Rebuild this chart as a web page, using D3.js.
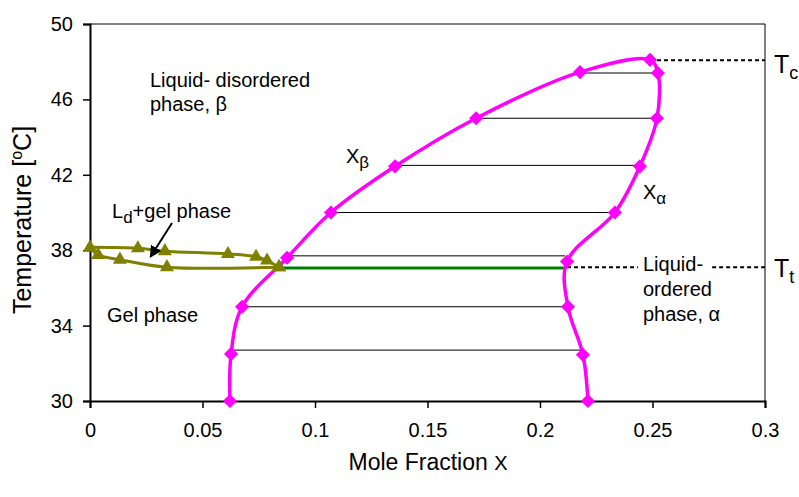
<!DOCTYPE html>
<html>
<head>
<meta charset="utf-8">
<script src="https://cdn.jsdelivr.net/npm/d3@7"></script>
<style>
  body { margin: 0; background: #ffffff; }
  text { font-family: "Liberation Sans", Arial, sans-serif; fill: #000000; }
</style>
</head>
<body>
<svg id="chart" width="799" height="497"></svg>
<script>

// --------------------------------
// data
// --------------------------------

// X_beta branch (liquid-disordered boundary), bottom to top
var betaX = [0.0622, 0.0627, 0.0676, 0.0876, 0.1071, 0.1356, 0.1716, 0.2178, 0.2489];
var betaT = [30.0, 32.5, 35.0, 37.6, 40.0, 42.45, 45.0, 47.45, 48.1];

// X_alpha branch (liquid-ordered boundary), bottom to top
var alphaX = [0.2213, 0.2191, 0.2124, 0.2120, 0.2333, 0.2444, 0.2520, 0.2524];
var alphaT = [30.0, 32.45, 35.0, 37.4, 40.0, 42.45, 45.0, 47.4];

// gel boundary, upper and lower curves
var gelUpperX = [0.0, 0.0213, 0.0333, 0.0613, 0.0738, 0.0787, 0.0840];
var gelUpperT = [38.15, 38.1, 37.95, 37.8, 37.65, 37.45, 37.1];
var gelLowerX = [0.0, 0.0036, 0.0133, 0.0342, 0.0840];
var gelLowerT = [38.15, 37.75, 37.5, 37.1, 37.1];

// tie lines
var tieT  = [32.7, 35.0, 37.7, 40.0, 42.5, 45.0, 47.4];
var tieX1 = [0.0636, 0.0676, 0.0870, 0.1071, 0.1356, 0.1716, 0.2178];
var tieX2 = [0.2187, 0.2124, 0.2111, 0.2324, 0.2444, 0.2524, 0.2547];

// triple line (green)
var tripleT = 37.05;
var tripleX = [0.0840, 0.2115];

// critical and transition temperatures
var tcT = 48.08;
var tcX = [0.2489, 0.3];
var ttT = 37.1;
var ttX = [[0.2120, 0.2435], [0.2765, 0.3]];

// axis ticks
var xTicks = [0, 0.05, 0.1, 0.15, 0.2, 0.25, 0.3];
var yTicks = [30, 34, 38, 42, 46, 50];

// --------------------------------
// scales and axes
// --------------------------------

var svg = d3.select("#chart");

var x = d3.scaleLinear().domain([0, 0.3]).range([90, 765]);
var y = d3.scaleLinear().domain([30, 50]).range([401, 24]);

// top and right frame
svg.append("path")
	.attr("d", "M" + x(0) + "," + y(50) + " H" + x(0.3) + " V" + y(30))
	.attr("style", "fill:none;stroke:#000000;stroke-width:1;");

var gx = svg.append("g")
	.attr("transform", "translate(0," + y(30) + ")")
	.call(d3.axisBottom(x)
		.tickValues(xTicks)
		.tickSizeOuter(0)
		.tickSize(7)
		.tickPadding(15)
		.tickFormat(function(d){ return String(+d.toFixed(2)); }));

var gy = svg.append("g")
	.attr("transform", "translate(" + x(0) + ",0)")
	.call(d3.axisLeft(y)
		.tickValues(yTicks)
		.tickSizeOuter(0)
		.tickSize(7)
		.tickPadding(10));

[gx, gy].forEach(function(g){
	g.select(".domain").attr("style", "stroke:#000000;stroke-width:2;");
	g.selectAll(".tick line").attr("style", "stroke:#000000;stroke-width:1.5;");
	g.selectAll(".tick text")
		.attr("style", "font-family:'Liberation Sans',Arial,sans-serif;font-size:20px;fill:#000000;");
});

// --------------------------------
// lines
// --------------------------------

var zip = function(xs, ts){
	return xs.map(function(v, i){ return [v, ts[i]]; });
};

var line = d3.line()
	.x(function(d){ return x(d[0]); })
	.y(function(d){ return y(d[1]); })
	.curve(d3.curveCatmullRom.alpha(0.5));

// tie lines
svg.append("g").selectAll("line")
	.data(tieT)
	.enter().append("line")
	.attr("x1", function(d, i){ return x(tieX1[i]); })
	.attr("x2", function(d, i){ return x(tieX2[i]); })
	.attr("y1", function(d){ return y(d); })
	.attr("y2", function(d){ return y(d); })
	.attr("style", "stroke:#000000;stroke-width:1;");

// dotted Tc / Tt lines
svg.append("line")
	.attr("x1", x(tcX[0])).attr("x2", x(tcX[1]))
	.attr("y1", y(tcT)).attr("y2", y(tcT))
	.attr("style", "stroke:#000000;stroke-width:2;stroke-dasharray:4,3;");

svg.append("g").selectAll("line")
	.data(ttX)
	.enter().append("line")
	.attr("x1", function(d){ return x(d[0]); })
	.attr("x2", function(d){ return x(d[1]); })
	.attr("y1", y(ttT)).attr("y2", y(ttT))
	.attr("style", "stroke:#000000;stroke-width:2;stroke-dasharray:4,3;");

// green triple line
svg.append("line")
	.attr("x1", x(tripleX[0])).attr("x2", x(tripleX[1]))
	.attr("y1", y(tripleT)).attr("y2", y(tripleT))
	.attr("style", "stroke:#008000;stroke-width:3;");

// gel boundary (olive)
var gelUpper = zip(gelUpperX, gelUpperT);
var gelLower = zip(gelLowerX, gelLowerT);

[gelUpper, gelLower].forEach(function(pts){
	svg.append("path")
		.attr("d", line(pts))
		.attr("style", "fill:none;stroke:#808000;stroke-width:3;");
});

// phase boundary (magenta), beta up to the top and down along alpha
var beta = zip(betaX, betaT);
var alpha = zip(alphaX, alphaT);
var boundary = beta.concat(alpha.slice().reverse());

svg.append("path")
	.attr("d", line(boundary))
	.attr("style", "fill:none;stroke:#ff00ff;stroke-width:3.5;");

// --------------------------------
// markers
// --------------------------------

var tri = d3.symbol().type(d3.symbolTriangle).size(85);
svg.append("g").selectAll("path")
	.data(gelUpper.concat(gelLower.slice(1)))
	.enter().append("path")
	.attr("d", tri)
	.attr("transform", function(d){ return "translate(" + x(d[0]) + "," + y(d[1]) + ")"; })
	.attr("style", "fill:#808000;stroke:none;");

var dia = d3.symbol().type(d3.symbolSquare).size(100);
svg.append("g").selectAll("path")
	.data(beta.concat(alpha))
	.enter().append("path")
	.attr("d", dia)
	.attr("transform", function(d){ return "translate(" + x(d[0]) + "," + y(d[1]) + ") rotate(45)"; })
	.attr("style", "fill:#ff00ff;stroke:none;");

// --------------------------------
// text
// --------------------------------

var label = function(px, py, size, txt){
	return svg.append("text")
		.attr("x", px)
		.attr("y", py)
		.attr("style", "font-size:" + size + "px;")
		.text(txt);
};

label(150, 87, 20, "Liquid- disordered");
label(150, 111, 20, "phase, \u03b2");
label(107, 322, 20, "Gel phase");
label(643, 271, 20, "Liquid-");
label(643, 296, 20, "ordered");
label(643, 321, 20, "phase, \u03b1");

// subscripted labels
var sub = function(px, py, size, main, low, rest, lowSize){
	var t = svg.append("text")
		.attr("x", px)
		.attr("y", py)
		.attr("style", "font-size:" + size + "px;");
	t.append("tspan").text(main);
	t.append("tspan").attr("dy", size * 0.25).attr("style", "font-size:" + (lowSize || size * 0.85) + "px;").text(low);
	if (rest){
		t.append("tspan").attr("dy", -size * 0.25).text(rest);
	}
	return t;
};

sub(346, 163, 20, "X", "\u03b2");
sub(643, 199, 20, "X", "\u03b1");
sub(112, 218, 20, "L", "d", "+gel phase");
sub(774, 73, 25, "T", "c", null, 18);
sub(774, 277, 25, "T", "t", null, 18);

// arrow to the two-phase region
svg.append("defs").append("marker")
	.attr("id", "arrowHead")
	.attr("viewBox", "0 0 10 10")
	.attr("refX", 8).attr("refY", 5)
	.attr("markerWidth", 6).attr("markerHeight", 6)
	.attr("orient", "auto")
	.append("path")
	.attr("d", "M0,0 L10,5 L0,10 z")
	.attr("style", "fill:#000000;");

svg.append("line")
	.attr("x1", 172).attr("y1", 223)
	.attr("x2", 151).attr("y2", 256)
	.attr("marker-end", "url(#arrowHead)")
	.attr("style", "stroke:#000000;stroke-width:2;");

// axis titles
var xt = svg.append("text")
	.attr("x", 428)
	.attr("y", 470)
	.attr("text-anchor", "middle")
	.attr("style", "font-size:23px;");
xt.append("tspan").text("Mole Fraction ");
xt.append("tspan").attr("style", "font-size:20px;").text("X");

var yt = svg.append("text")
	.attr("transform", "translate(31,220) rotate(-90)")
	.attr("text-anchor", "middle")
	.attr("style", "font-size:25px;");
yt.append("tspan").text("Temperature [");
yt.append("tspan").attr("dy", -9).attr("style", "font-size:16px;").text("o");
yt.append("tspan").attr("dy", 9).text("C]");

</script>
</body>
</html>
